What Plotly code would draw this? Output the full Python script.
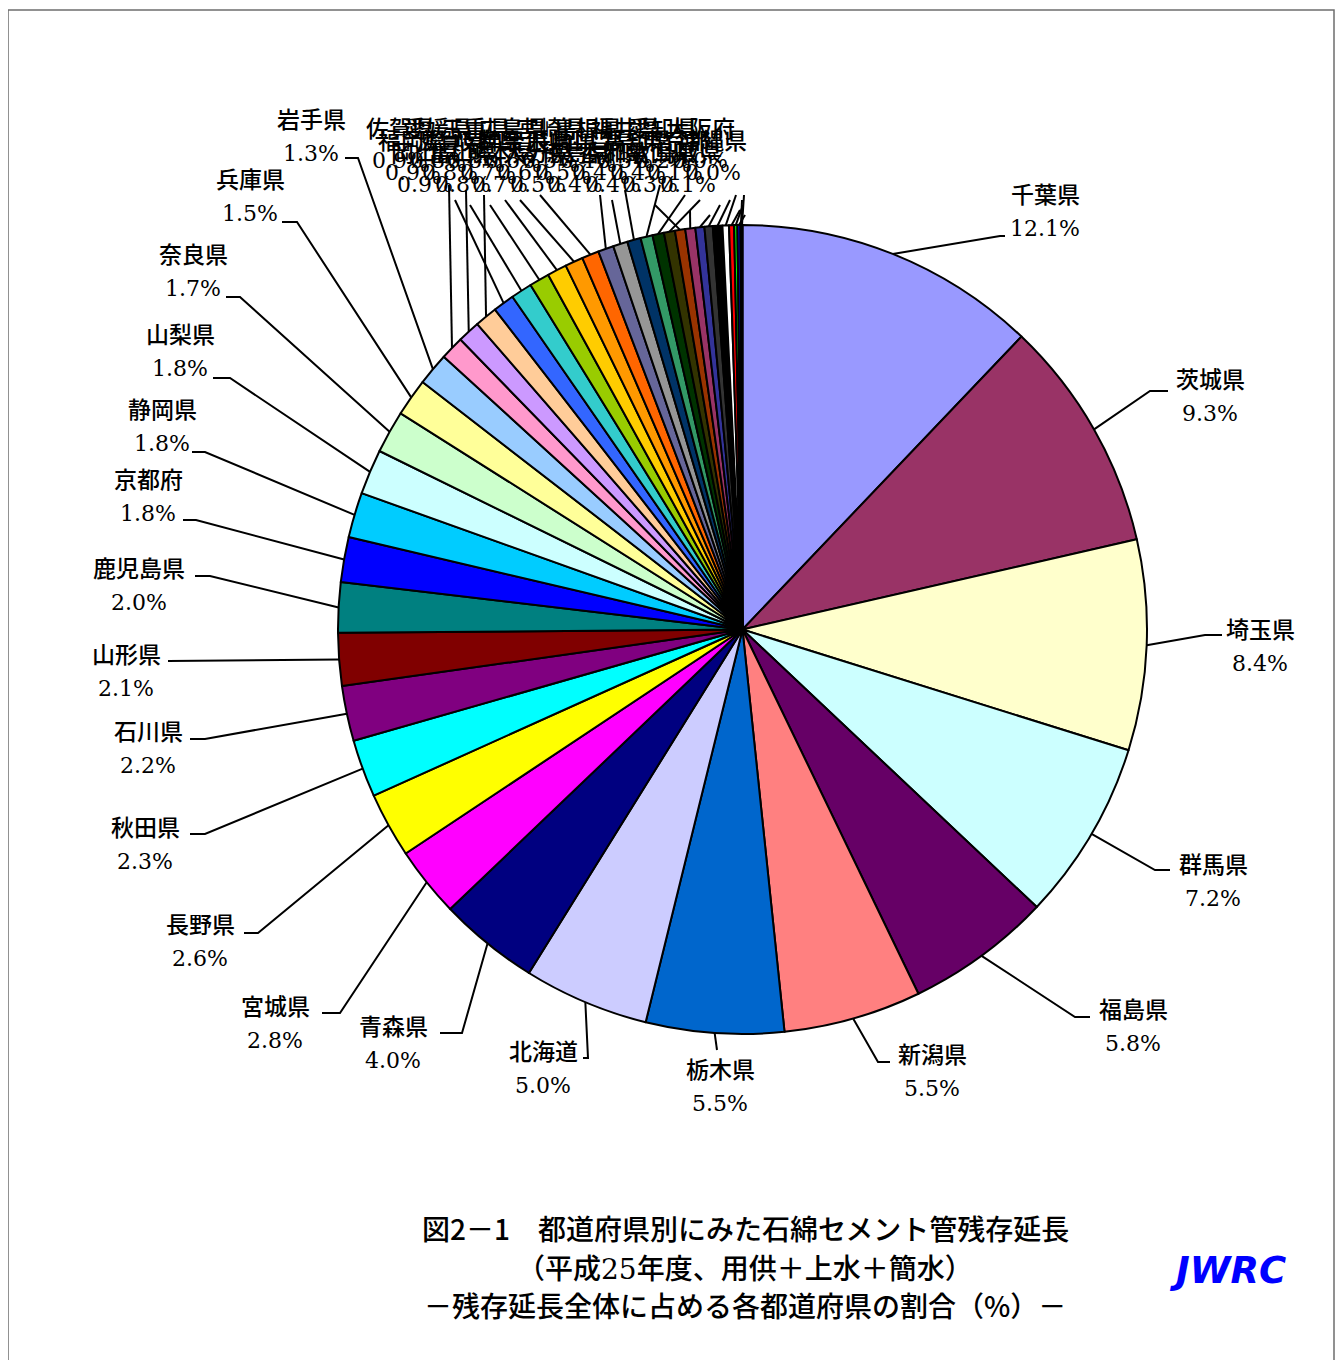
import math
import plotly.graph_objects as go

# ---------------- data ----------------
prefectures = [
    "千葉県", "茨城県", "埼玉県", "群馬県", "福島県", "新潟県", "栃木県", "北海道",
    "青森県", "宮城県", "長野県", "秋田県", "石川県", "山形県", "鹿児島県", "京都府",
    "静岡県", "山梨県", "奈良県", "兵庫県", "岩手県",
    "佐賀県", "福岡県", "岡山県", "愛媛県", "滋賀県", "富山県", "三重県", "岐阜県",
    "熊本県", "広島県", "神奈川県", "大分県", "宮崎県", "長崎県", "徳島県", "島根県",
    "山口県", "香川県", "福井県", "高知県", "和歌山県", "愛知県", "東京都", "鳥取県",
    "大阪府", "沖縄県",
]
shares = [
    12.1, 9.3, 8.4, 7.2, 5.8, 5.5, 5.5, 5.0,
    4.0, 2.8, 2.6, 2.3, 2.2, 2.1, 2.0, 1.8,
    1.8, 1.8, 1.7, 1.5, 1.3,
    0.94, 0.90, 0.90, 0.85, 0.85, 0.80, 0.78, 0.72,
    0.68, 0.62, 0.58, 0.54, 0.48, 0.46, 0.44, 0.41,
    0.40, 0.36, 0.33, 0.38, 0.26, 0.20, 0.13, 0.12,
    0.04, 0.04,
]
title_lines = [
    "図2－1　都道府県別にみた石綿セメント管残存延長",
    "（平成<span style=\"font-family:'DejaVu Serif'\">25</span>年度、用供＋上水＋簡水）",
    "－残存延長全体に占める各都道府県の割合（%）－",
]

# ---------------- style ----------------
colors = [
    "#9999FF", "#993366", "#FFFFCC", "#CCFFFF", "#660066", "#FF8080", "#0066CC", "#CCCCFF",
    "#000080", "#FF00FF", "#FFFF00", "#00FFFF", "#800080", "#800000", "#008080", "#0000FF",
    "#00CCFF", "#CCFFFF", "#CCFFCC", "#FFFF99", "#99CCFF", "#FF99CC", "#CC99FF", "#FFCC99",
    "#3366FF", "#33CCCC", "#99CC00", "#FFCC00", "#FF9900", "#FF6600", "#666699", "#969696",
    "#003366", "#339966", "#003300", "#333300", "#993300", "#993366", "#333399", "#333333",
    "#000000", "#FFFFFF", "#FF0000", "#00FF00", "#0000FF", "#FFFF00", "#FF00FF",
]

W, H = 1336, 1352          # figure size (page has an 8px body margin)
OFF = 8                    # page offset of the figure
CX, CY, R = 742.5, 629.5, 404.5   # pie centre / radius in page pixels

# label layout for the 21 larger slices: (name x, name y, elbow x, elbow y, end x)
big_layout = [
    (1045, 193, 1000, 236, 1005),
    (1210, 378, 1150, 391, 1168),
    (1260, 628, 1205, 635, 1222),
    (1213, 863, 1155, 870, 1170),
    (1133, 1008, 1075, 1017, 1090),
    (932, 1053, 878, 1062, 890),
    (720, 1068, 717, 1050, 717),
    (543, 1050, 588, 1058, 583),
    (393, 1025, 462, 1033, 440),
    (275, 1005, 340, 1013, 322),
    (200, 923, 258, 933, 244),
    (145, 826, 205, 834, 190),
    (148, 730, 205, 739, 190),
    (126, 653, 180, 661, 168),
    (139, 567, 210, 576, 195),
    (148, 478, 196, 520, 183),
    (162, 408, 205, 452, 192),
    (180, 333, 230, 378, 213),
    (193, 253, 240, 297, 226),
    (250, 178, 297, 222, 282),
    (311, 118, 358, 158, 345),
]
# leader end points for the small slices
small_ends = [
    (449, 185), (466, 190), (484, 195), (455, 200), (470, 205), (490, 205),
    (505, 200), (520, 200), (540, 195), (600, 195), (612, 200), (625, 190),
    (660, 185), (685, 195), (700, 200), (655, 205), (690, 210), (710, 215),
    (720, 205), (730, 200), (736, 195), (740, 210), (743, 205), (745, 215),
    (742, 200), (744, 195),
]
name_y_cycle = [127, 139, 151]
NAME_FONT = dict(family="Noto Sans CJK JP", size=23, color="black", weight=500)
PCT_FONT = dict(family="DejaVu Serif", size=22, color="black")

fig = go.Figure()

total = sum(shares)
lx, ly = [], []
annotations = []
cum = 0.0
n_big = len(big_layout)
for i, (name, v) in enumerate(zip(prefectures, shares)):
    mid = (cum + v / 2) / total * 2 * math.pi
    cum += v
    rx = CX + R * math.sin(mid)
    ry = CY - R * math.cos(mid)
    pct_txt = f"{v:.1f}%"
    if i < n_big:
        nx, ny, ex, ey, hx = big_layout[i]
        lx += [rx, ex, hx, None]
        ly += [ry, ey, ey, None]
        py = ny + 35
    else:
        k = i - n_big
        ex, ey = small_ends[k]
        lx += [rx, ex, None]
        ly += [ry, ey, None]
        nx = 400 + k * 12.5
        ny = name_y_cycle[k % 3]
        py = ny + 33
    annotations.append(dict(x=nx, y=ny, xref="x", yref="y", text=name, showarrow=False,
                            font=NAME_FONT, xanchor="center", yanchor="middle"))
    annotations.append(dict(x=nx, y=py, xref="x", yref="y", text=pct_txt, showarrow=False,
                            font=PCT_FONT, xanchor="center", yanchor="middle"))

fig.add_trace(go.Scatter(x=lx, y=ly, mode="lines", line=dict(color="black", width=2),
                         hoverinfo="skip", showlegend=False))

fig.add_trace(go.Pie(
    values=shares, labels=prefectures, sort=False, direction="clockwise", rotation=0,
    marker=dict(colors=colors, line=dict(color="black", width=2)),
    textinfo="none", hoverinfo="skip", showlegend=False,
    domain=dict(x=[(CX - R - OFF) / W, (CX + R - OFF) / W],
                y=[1 - (CY + R - OFF) / H, 1 - (CY - R - OFF) / H]),
))

for t, yy in zip(title_lines, [1228, 1267, 1305]):
    annotations.append(dict(x=745, y=yy, xref="x", yref="y", text=t, showarrow=False,
                            font=dict(family="Noto Sans CJK JP", size=28, color="black", weight=500),
                            xanchor="center", yanchor="middle"))
annotations.append(dict(x=1227, y=1270, xref="x", yref="y", text="<b><i>JWRC</i></b>",
                        showarrow=False, font=dict(family="DejaVu Sans", size=37, color="#0000FF"),
                        xanchor="center", yanchor="middle"))

fig.update_layout(
    width=W, height=H, autosize=False,
    margin=dict(l=0, r=0, t=0, b=0),
    paper_bgcolor="white", plot_bgcolor="white",
    xaxis=dict(range=[OFF, W + OFF], visible=False, domain=[0, 1], fixedrange=True),
    yaxis=dict(range=[H + OFF, OFF], visible=False, domain=[0, 1], fixedrange=True),
    annotations=annotations,
    shapes=[dict(type="rect", xref="x", yref="y",
                 x0=8, x1=1334, y0=10, y1=H + OFF + 10,
                 line=dict(color="#6e6e6e", width=1.5), fillcolor="rgba(0,0,0,0)")],
)

fig.write_html("out.html")
